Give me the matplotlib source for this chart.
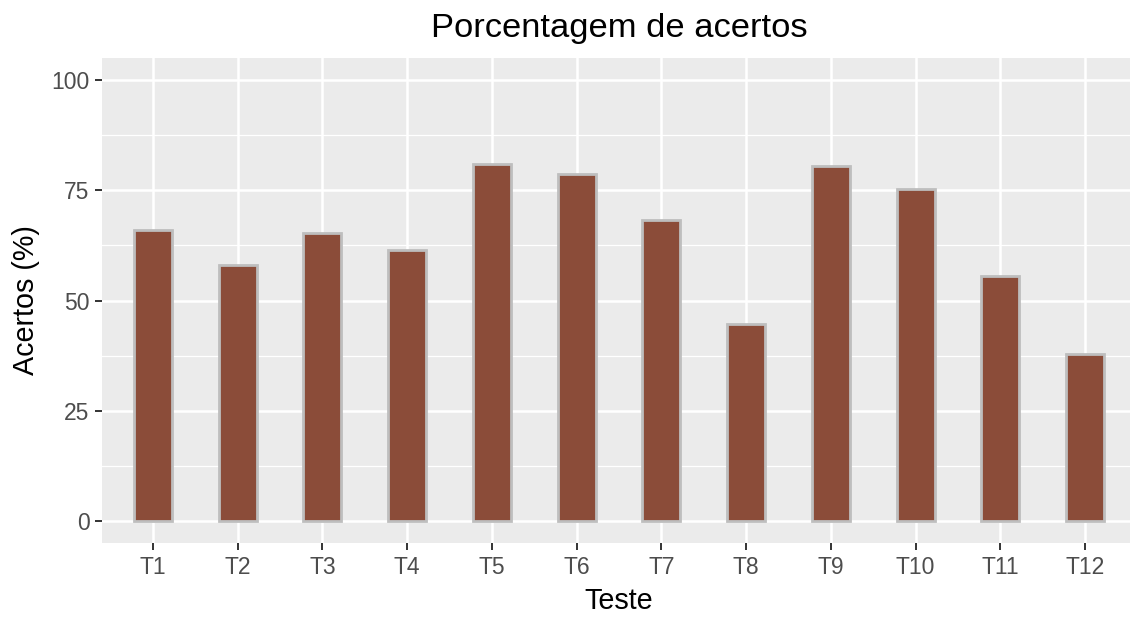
import numpy as np
import matplotlib
matplotlib.use('Agg')
import matplotlib.pyplot as plt
from matplotlib.ticker import MultipleLocator

plt.rcParams['font.family'] = ['Liberation Sans', 'DejaVu Sans']

testes = ['T1', 'T2', 'T3', 'T4', 'T5', 'T6', 'T7', 'T8', 'T9', 'T10', 'T11', 'T12']
acertos = [66.1, 58.1, 65.4, 61.5, 80.9, 78.8, 68.3, 44.7, 80.5, 75.4, 55.6, 37.9]

W, H = 1130, 619
fig = plt.figure(figsize=(W / 100, H / 100), dpi=100)
# panel goes past the right edge in the reference (cropped image)
left, right, top, bottom = 102, 1136, 58, 543
ax = fig.add_axes([left / W, 1 - bottom / H, (right - left) / W, (bottom - top) / H])

ax.set_facecolor('#EBEBEB')
for s in ax.spines.values():
    s.set_visible(False)

x = np.arange(len(testes))
ax.bar(x, acertos, width=0.45, color='#8B4C39', edgecolor='#BEBEBE', linewidth=2, zorder=3)

ax.set_xlim(-0.6, len(testes) - 0.4)
ax.set_ylim(-5, 105)
ax.set_xticks(x)
ax.set_xticklabels(testes)
ax.yaxis.set_major_locator(MultipleLocator(25))
ax.yaxis.set_minor_locator(MultipleLocator(12.5))

ax.grid(which='major', color='white', linewidth=1.8, zorder=0)
ax.grid(which='minor', axis='y', color='white', linewidth=0.9, zorder=0)
ax.set_axisbelow(True)

ax.tick_params(axis='both', which='major', length=5, width=1.4, color='#333333',
               labelcolor='#4D4D4D', labelsize=16.5, pad=4)
ax.tick_params(axis='y', which='minor', length=0)

cx = (left + right) / 2 / W
fig.text(cx, 1 - 609 / H, 'Teste', fontsize=20.7, ha='center', va='baseline')
fig.text(26 / W, 1 - 300 / H, 'Acertos (%)', fontsize=20.7, rotation=90,
         ha='center', va='center')
fig.text(cx, 1 - 36.7 / H, 'Porcentagem de acertos', fontsize=24.8,
         ha='center', va='baseline')

fig.savefig('out.png', dpi=100)
